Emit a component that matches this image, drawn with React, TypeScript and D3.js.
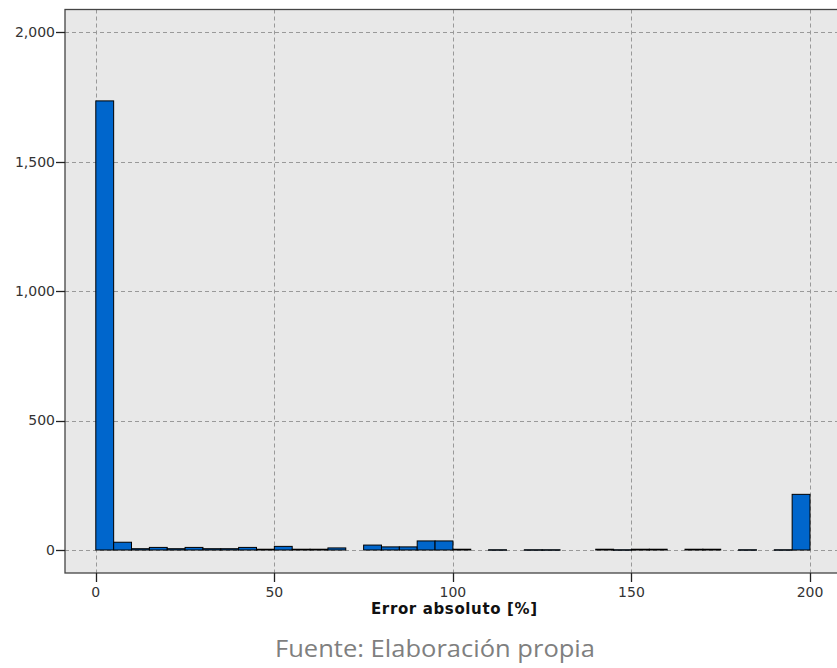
import React from "react";
import * as d3 from "d3";

const binStarts = [0,5,10,15,20,25,30,35,40,45,50,55,60,65,70,75,80,85,90,95,100,105,110,115,120,125,130,135,140,145,150,155,160,165,170,175,180,185,190,195];
const counts = [1735,30,5,10,5,10,5,5,10,3,14,3,3,8,0,19,12,12,35,35,3,0,1,0,1,1,0,0,3,1,3,3,0,3,3,0,1,0,1,215];
const binWidth = 5;
const xTicks = [0,50,100,150,200];
const yTicks = [0,500,1000,1500,2000];
const xLabel = "Error absoluto [%]";
const sourceText = "Fuente: Elaboración propia";

const W = 837;
const H = 668;
const plot = { left: 65, top: 9.5, right: 845, bottom: 573 };

export default function App() {
  const x = d3.scaleLinear().domain([0, 200]).range([95.8, 810]);
  const y = d3.scaleLinear().domain([0, 2000]).range([550, 32.3]);
  const fmt = d3.format(",");
  const tickFont = "'DejaVu Sans', sans-serif";

  return (
    <svg width={W} height={H} style={{ position: "absolute", left: 0, top: 0, background: "#fff" }}>
      <defs>
        <clipPath id="pclip">
          <rect x={plot.left} y={plot.top} width={plot.right - plot.left} height={plot.bottom - plot.top} />
        </clipPath>
      </defs>
      <rect x={plot.left} y={plot.top} width={plot.right - plot.left} height={plot.bottom - plot.top} fill="#e8e8e8" />
      <g clipPath="url(#pclip)">
        {yTicks.map((t) => (
          <line key={"gy" + t} x1={plot.left} x2={plot.right} y1={Math.round(y(t)) + 0.5} y2={Math.round(y(t)) + 0.5}
            stroke="#999" strokeWidth={1} strokeDasharray="4,3" />
        ))}
        {xTicks.map((t) => (
          <line key={"gx" + t} x1={Math.round(x(t)) + 0.5} x2={Math.round(x(t)) + 0.5} y1={plot.top} y2={plot.bottom}
            stroke="#999" strokeWidth={1} strokeDasharray="4,3" />
        ))}
        {counts.map((c, i) => {
          if (c <= 0) return null;
          const x0 = x(binStarts[i]);
          const x1 = x(binStarts[i] + binWidth);
          const yTop = y(c);
          return (
            <rect key={"b" + i} x={x0} y={yTop} width={x1 - x0} height={Math.max(0.5, y(0) - yTop)}
              fill="#0066cc" stroke="#000" strokeWidth={1} />
          );
        })}
      </g>
      <rect x={plot.left} y={plot.top} width={plot.right - plot.left} height={plot.bottom - plot.top}
        fill="none" stroke="#444" strokeWidth={1.3} />
      {yTicks.map((t) => (
        <g key={"ty" + t}>
          <line x1={plot.left - 9} x2={plot.left} y1={Math.round(y(t)) + 0.5} y2={Math.round(y(t)) + 0.5} stroke="#222" strokeWidth={1.3} />
          <text x={plot.left - 10} y={y(t)} dy="0.35em" textAnchor="end" fontFamily={tickFont} fontSize={14} fill="#333">
            {fmt(t)}
          </text>
        </g>
      ))}
      {xTicks.map((t) => (
        <g key={"tx" + t}>
          <line x1={Math.round(x(t)) + 0.5} x2={Math.round(x(t)) + 0.5} y1={plot.bottom} y2={plot.bottom + 9} stroke="#222" strokeWidth={1.3} />
          <text x={x(t)} y={plot.bottom + 19} dy="0.35em" textAnchor="middle" fontFamily={tickFont} fontSize={14} fill="#333">
            {t}
          </text>
        </g>
      ))}
      <text x={454} y={614} textAnchor="middle" fontFamily={tickFont} fontWeight="bold" fontSize={15}
        textLength={166} lengthAdjust="spacing" fill="#111">
        {xLabel}
      </text>
      <text x={435} y={657} textAnchor="middle" fontFamily="'Open Sans', sans-serif" fontSize={24}
        textLength={320} lengthAdjust="spacingAndGlyphs" fill="#7f7f7f">
        {sourceText}
      </text>
    </svg>
  );
}
